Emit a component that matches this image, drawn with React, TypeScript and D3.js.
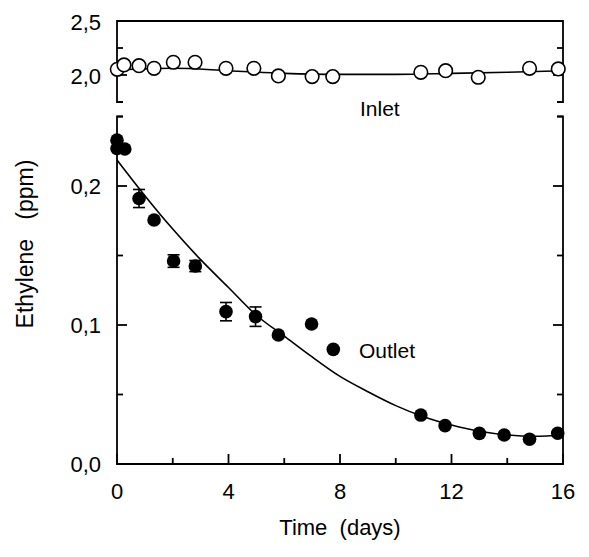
import React from "react";
import * as d3 from "d3";

// Outlet measurements (days, ppm)
const outletT = [0, 0, 0.28, 0.79, 1.33, 2.03, 2.81, 3.91, 4.97, 5.79, 6.98, 7.76, 10.9, 11.77, 13.0, 13.89, 14.8, 15.81];
const outletV = [0.233, 0.227, 0.2266, 0.191, 0.1755, 0.146, 0.1424, 0.1096, 0.106, 0.0928, 0.1007, 0.0825, 0.0352, 0.0276, 0.022, 0.0209, 0.0178, 0.0221];
const outletErr = [0, 0, 0, 0.0065, 0, 0.0045, 0.004, 0.0066, 0.007, 0, 0, 0, 0, 0, 0, 0, 0, 0];

// Outlet fitted curve
const outletFitT = [0, 1, 2, 3, 4, 5, 6, 7, 8, 9, 10, 11, 12, 13, 14, 15, 16];
const outletFitV = [0.2187, 0.193, 0.169, 0.147, 0.127, 0.107, 0.092, 0.077, 0.063, 0.052, 0.042, 0.034, 0.028, 0.0235, 0.0209, 0.02, 0.0209];

// Inlet measurements (days, ppm)
const inletT = [0.01, 0.25, 0.79, 1.33, 2.02, 2.8, 3.91, 4.91, 5.79, 7.0, 7.74, 10.9, 11.79, 12.96, 14.8, 15.83];
const inletV = [2.053, 2.093, 2.086, 2.062, 2.118, 2.118, 2.062, 2.062, 1.991, 1.985, 1.985, 2.025, 2.04, 1.979, 2.062, 2.056];

// Inlet fitted line
const inletFitT = [0, 2, 4, 6, 8, 10, 12, 14, 16];
const inletFitV = [2.046, 2.062, 2.04, 2.015, 2.006, 2.006, 2.015, 2.025, 2.04];

const xTicksMajor = [0, 4, 8, 12, 16];
const xTicksMinor = [2, 6, 10, 14];
const yTicksMajor = [0, 0.1, 0.2];
const yTicksMinor = [0.05, 0.15, 0.25];
const yTickLabels = ["0,0", "0,1", "0,2"];
const topTicksMajor = [2.0, 2.5];
const topTicksMinor = [2.25];
const topTickLabels = ["2,0", "2,5"];

const FONT = "'Liberation Sans', Arial, Helvetica, sans-serif";

export default function App() {
  const W = 589, H = 557;
  const L = 117, R = 563;
  const x = d3.scaleLinear().domain([0, 16]).range([L, R]);
  const yB = d3.scaleLinear().domain([0, 0.25]).range([464, 116.5]);
  const yT = d3.scaleLinear().domain([1.75, 2.5]).range([102, 21]);

  const lineB = d3.line<number>().x((_, i) => x(outletFitT[i])).y((d) => yB(d)).curve(d3.curveMonotoneX);
  const lineT = d3.line<number>().x((_, i) => x(inletFitT[i])).y((d) => yT(d)).curve(d3.curveMonotoneX);

  const sw = 1.8;
  const major = 10, minor = 6;
  const r = 6.8;

  return (
    <svg width={W} height={H} style={{ position: "absolute", left: 0, top: 0, background: "#fff" }} fontFamily={FONT}>
      <rect width={W} height={H} fill="#fff" />
      <g stroke="#000" strokeWidth={sw} fill="none">
        <path d={`M${L + 6},${yT(1.75)}H${L}V${yT(2.5)}H${R}V${yT(1.75)}H${R - 6}`} />
        <path d={`M${L + 6},${yB(0.25)}H${L}V${yB(0)}H${R}V${yB(0.25)}H${R - 6}`} />
      </g>
      <g stroke="#000" strokeWidth={sw}>
        {xTicksMajor.map((t) => (
          <line key={"xm" + t} x1={x(t)} x2={x(t)} y1={yB(0)} y2={yB(0) - major} />
        ))}
        {xTicksMinor.map((t) => (
          <line key={"xn" + t} x1={x(t)} x2={x(t)} y1={yB(0)} y2={yB(0) - minor} />
        ))}
        {yTicksMajor.map((v) => (
          <g key={"ym" + v}>
            <line x1={L} x2={L + major} y1={yB(v)} y2={yB(v)} />
            <line x1={R} x2={R - major} y1={yB(v)} y2={yB(v)} />
          </g>
        ))}
        {yTicksMinor.map((v) => (
          <g key={"yn" + v}>
            <line x1={L} x2={L + minor} y1={yB(v)} y2={yB(v)} />
            <line x1={R} x2={R - minor} y1={yB(v)} y2={yB(v)} />
          </g>
        ))}
        {topTicksMajor.map((v) => (
          <g key={"tm" + v}>
            <line x1={L} x2={L + major} y1={yT(v)} y2={yT(v)} />
            <line x1={R} x2={R - major} y1={yT(v)} y2={yT(v)} />
          </g>
        ))}
        {topTicksMinor.map((v) => (
          <g key={"tn" + v}>
            <line x1={L} x2={L + minor} y1={yT(v)} y2={yT(v)} />
            <line x1={R} x2={R - minor} y1={yT(v)} y2={yT(v)} />
          </g>
        ))}
      </g>
      <g fontSize={22} fill="#000">
        {xTicksMajor.map((t) => (
          <text key={"xl" + t} x={x(t)} y={499} textAnchor="middle">{String(t)}</text>
        ))}
        {yTicksMajor.map((v, i) => (
          <text key={"yl" + v} x={101} y={yB(v) + 8} textAnchor="end">{yTickLabels[i]}</text>
        ))}
        {topTicksMajor.map((v, i) => (
          <text key={"tl" + v} x={101} y={yT(v) + 9} textAnchor="end">{topTickLabels[i]}</text>
        ))}
      </g>
      <text x={340} y={535} fontSize={22} textAnchor="middle" style={{ whiteSpace: "pre" }}>Time  (days)</text>
      <text transform={`translate(33,244) rotate(-90)`} fontSize={23} textAnchor="middle" style={{ whiteSpace: "pre" }}>Ethylene   (ppm)</text>
      <text x={360} y={116} fontSize={21}>Inlet</text>
      <text x={359} y={358} fontSize={21}>Outlet</text>
      <path d={lineB(outletFitV) || ""} fill="none" stroke="#000" strokeWidth={1.6} />
      <path d={lineT(inletFitV) || ""} fill="none" stroke="#000" strokeWidth={1.6} />
      <g stroke="#000" strokeWidth={1.6}>
        {outletV.map((v, i) =>
          outletErr[i] > 0 ? (
            <g key={"e" + i}>
              <line x1={x(outletT[i])} x2={x(outletT[i])} y1={yB(v - outletErr[i])} y2={yB(v + outletErr[i])} />
              <line x1={x(outletT[i]) - 6} x2={x(outletT[i]) + 6} y1={yB(v - outletErr[i])} y2={yB(v - outletErr[i])} />
              <line x1={x(outletT[i]) - 6} x2={x(outletT[i]) + 6} y1={yB(v + outletErr[i])} y2={yB(v + outletErr[i])} />
            </g>
          ) : null
        )}
      </g>
      {outletV.map((v, i) => (
        <circle key={"o" + i} cx={x(outletT[i])} cy={yB(v)} r={r} fill="#000" />
      ))}
      {inletV.map((v, i) => (
        <circle key={"i" + i} cx={x(inletT[i])} cy={yT(v)} r={r} fill="#fff" stroke="#000" strokeWidth={1.6} />
      ))}
    </svg>
  );
}
